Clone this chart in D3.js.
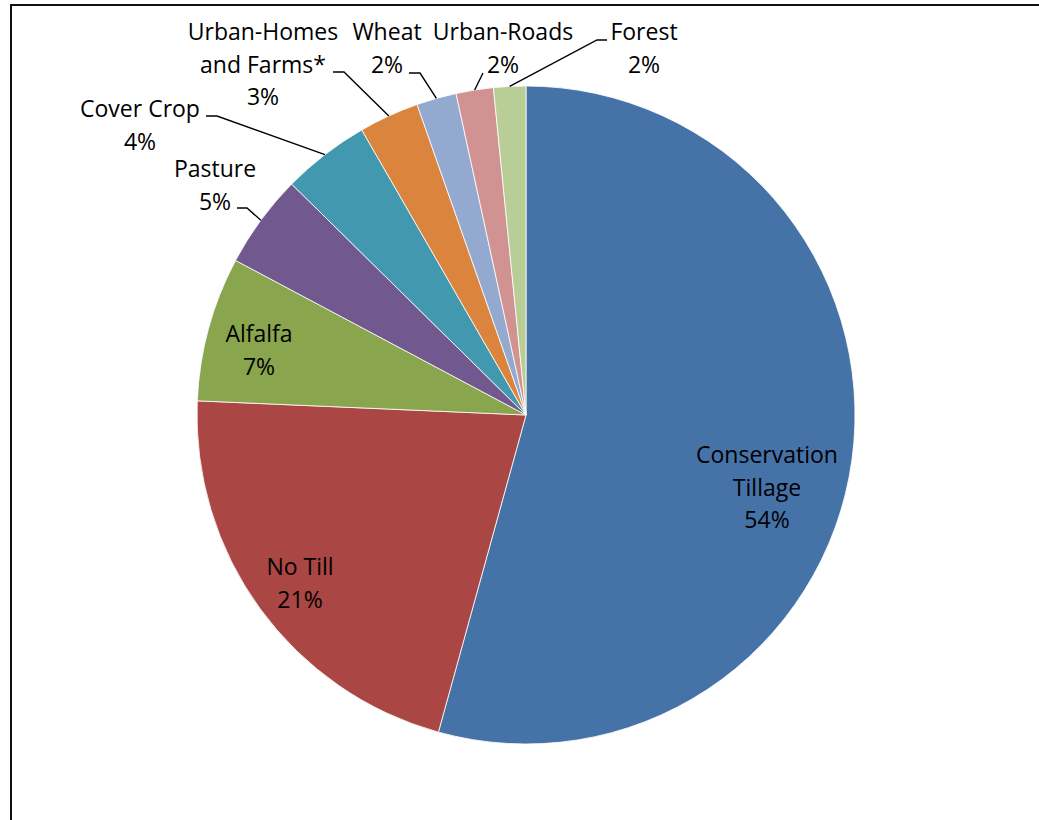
<!DOCTYPE html>
<html>
  <head>
    <meta charset="utf-8">
    <script src="https://d3js.org/d3.v7.min.js"></script>
    <style>
      body { margin: 0; background: #fff; }
      text { font-family: "Open Sans", sans-serif; fill: #000; }
    </style>
  </head>
  <body>
    <script>
        // land use categories, clockwise from 12 o'clock
        var categories = ["Conservation\nTillage", "No Till", "Alfalfa", "Pasture", "Cover Crop",
                          "Urban-Homes\nand Farms*", "Wheat", "Urban-Roads", "Forest"];
        var values = [54.3, 21.4, 7.1, 4.6, 4.3, 2.95, 1.96, 1.83, 1.58];
        var colors = ["#4572A7", "#AA4643", "#89A54E", "#71588F", "#4198AF",
                      "#DB843D", "#93A9CF", "#D19392", "#B9CD96"];

        // label placement (x center, first baseline) and leader start/elbow (null = inside label)
        var labelPos = [[767, 463], [300, 575], [259, 342], [215, 177], [140, 117],
                        [263, 40], [387, 40], [503, 40], [644, 40]];
        var leaders = [null, null, null, [237, 208, 247], [206, 116, 217],
                       [333, 72, 344], [409, 73, 420], [483, 73, 483], [607, 40, 597]];

        var width = 1039, height = 820;
        var cx = 526, cy = 415, radius = 329;
        var fontsize = 23, lineH = 32.5;

        var svg = d3.select("body").append("svg")
            .attr("width", width)
            .attr("height", height)

        // chart frame, runs off the right and bottom
        svg.append("rect")
            .attr("x", 11).attr("y", 5)
            .attr("width", 1100).attr("height", 900)
            .attr("fill", "none")
            .attr("stroke", "#111")
            .attr("stroke-width", 2)

        var data = values.map(function(v, i){ return {name: categories[i], value: v, i: i}; });
        var pie = d3.pie().sort(null).value(function(d){ return d.value; });
        var arcs = pie(data);
        var arc = d3.arc().innerRadius(0).outerRadius(radius);

        var g = svg.append("g").attr("transform", "translate(" + cx + "," + cy + ")");

        g.selectAll(".slice").data(arcs)
            .enter().append("path")
            .attr("class", "slice")
            .attr("d", arc)
            .attr("fill", function(d){ return colors[d.index]; })
            .attr("stroke", "#fff")
            .attr("stroke-width", 0.8)

        // leader lines to the middle of the outer arc
        svg.selectAll(".leader").data(arcs.filter(function(d){ return leaders[d.index]; }))
            .enter().append("polyline")
            .attr("class", "leader")
            .attr("points", function(d){
                var l = leaders[d.index];
                var a = (d.startAngle + d.endAngle) / 2;
                var ex = cx + radius * Math.sin(a), ey = cy - radius * Math.cos(a);
                return [[l[0], l[1]], [l[2], l[1]], [ex, ey]].join(" ");
            })
            .attr("fill", "none")
            .attr("stroke", "#000")
            .attr("stroke-width", 1.4)

        var labels = svg.selectAll(".label").data(arcs)
            .enter().append("text")
            .attr("class", "label")
            .attr("font-size", fontsize)
            .style("text-anchor", "middle")

        labels.each(function(d){
            var lines = d.data.name.split("\n").concat([Math.round(d.data.value) + "%"]);
            var p = labelPos[d.index];
            var t = d3.select(this);
            lines.forEach(function(s, k){
                t.append("tspan")
                    .attr("x", p[0])
                    .attr("y", p[1] + k * lineH)
                    .text(s);
            });
        });
    </script>
  </body>
</html>
